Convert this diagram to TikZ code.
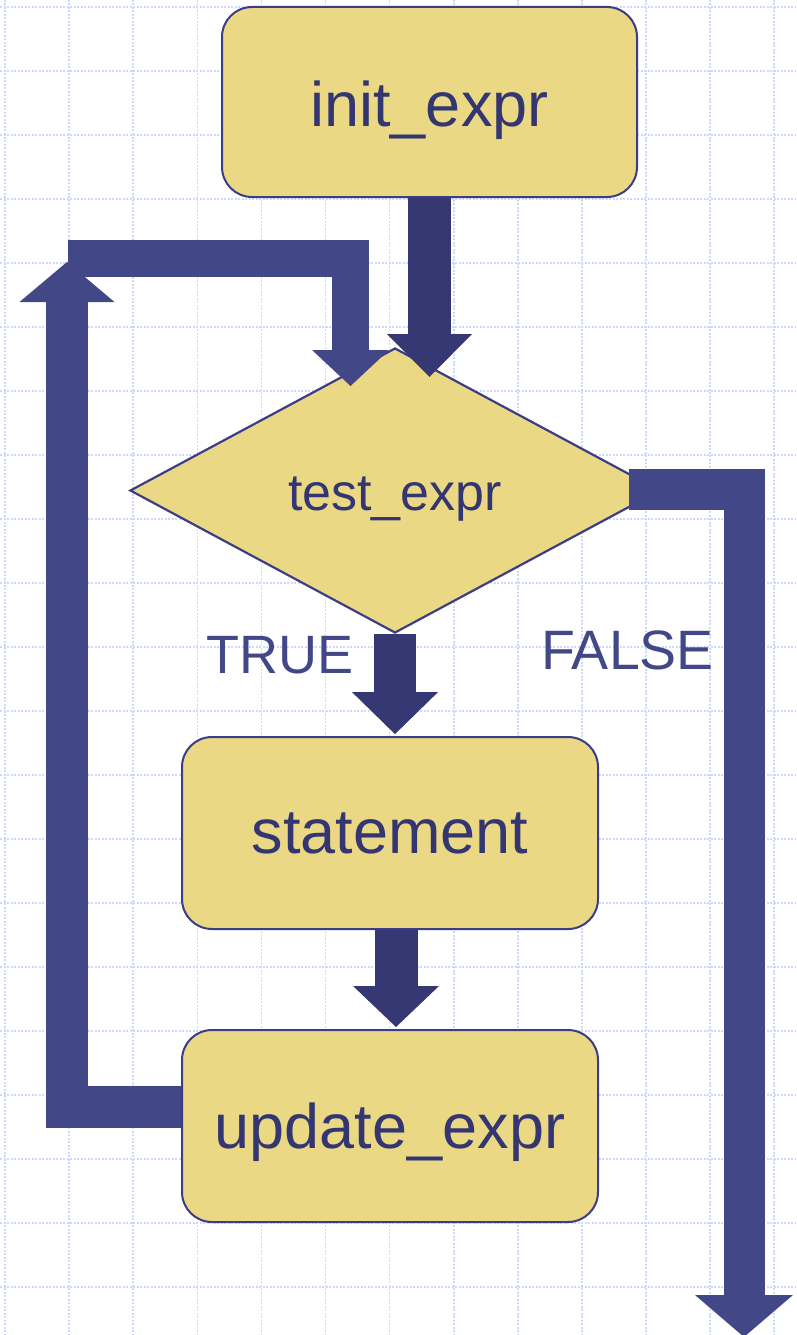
\documentclass[tikz,border=0pt]{standalone}
\usepackage{fontspec}
\setmainfont{Liberation Sans}
\usetikzlibrary{arrows.meta,shapes.geometric,calc}
\definecolor{boxfill}{RGB}{235,216,133}
\definecolor{boxline}{RGB}{59,62,135}
\definecolor{arrdark}{RGB}{54,56,116}
\definecolor{arrlite}{RGB}{66,71,135}
\definecolor{textc}{RGB}{51,54,112}
\definecolor{gridc}{RGB}{205,216,252}
\tikzset{
  gridline/.style={gridc, line width=1.6pt, dash pattern=on 2pt off 1.5pt},
  boxnode/.style={draw=boxline, fill=boxfill, line width=2pt, rounded corners=30pt,
    minimum width=415pt, minimum height=190pt, inner sep=0pt, text=textc,
    font=\fontsize{63}{70}\selectfont, text depth=0pt},
  decnode/.style={draw=boxline, fill=boxfill, line width=2.2pt, diamond,
    minimum width=530pt, minimum height=285pt, inner sep=0pt, text=textc,
    font=\fontsize{52}{60}\selectfont, text depth=0pt},
  lbl/.style={anchor=base, inner sep=0pt, text=arrlite, font=\fontsize{54}{60}\selectfont},
  blockarrow/.style n args={4}{line width=#1pt, line cap=butt, line join=miter,
    -{Triangle[width=#2pt, length=#3pt, line width=0pt]}, draw=#4, color=#4},
}
\begin{document}
\begin{tikzpicture}[x=1pt,y=-1pt]
\useasboundingbox (0,0) rectangle (796,1335);
\fill[white] (0,0) rectangle (796,1335);
% grid
\foreach \k in {0,...,12} { \draw[gridline] ({5+64.1*\k},0) -- ({5+64.1*\k},1335); }
\foreach \k in {0,...,20} { \draw[gridline] (0,{7+64*\k}) -- (796,{7+64*\k}); }
% nodes
\node[boxnode, text height=50pt, minimum width=415pt] (init) at (429.5,102) {init\_expr};
\node[decnode, text height=39pt] (test) at (395,490.5) {test\_expr};
\node[boxnode, text height=40pt, minimum width=416pt, minimum height=192pt] (stmt) at (390,833) {statement};
\node[boxnode, text height=44pt, minimum width=416pt, minimum height=192pt] (upd) at (390,1126) {update\_expr};
\node[lbl] (truel) at (280,673) {TRUE};
\node[lbl, font=\fontsize{55.5}{60}\selectfont] (falsel) at (627.5,669) {FALSE};
% connectors
\coordinate (loopcorner) at (67,1107);
\coordinate (looptip) at (67,262);
\coordinate (backstart) at (68,258.5);
\coordinate (backcorner) at (350.5,258.5);
\coordinate (backtip) at (350.5,386);
\coordinate (falsecorner) at (744,489);
\coordinate (falsetip) at (744,1337);
\draw[blockarrow={42}{95}{40}{arrlite}] ([yshift=19pt]upd.west) -- (loopcorner) -- (looptip);
\draw[blockarrow={37.5}{77}{36}{arrlite}] (backstart) -- (backcorner) -- (backtip);
\draw[blockarrow={43}{85}{43}{arrdark}] (init.south) -- ++(0,179);
\draw[blockarrow={41}{98}{42}{arrlite}] ([xshift=-32pt,yshift=1.5pt]test.east) -- (falsecorner) -- (falsetip);
\draw[blockarrow={42}{86}{42}{arrdark}] (test.south) -- ++(0,100);
\draw[blockarrow={43}{86}{41}{arrdark}] ([xshift=6pt]stmt.south) -- ++(0,97);
\end{tikzpicture}
\end{document}
